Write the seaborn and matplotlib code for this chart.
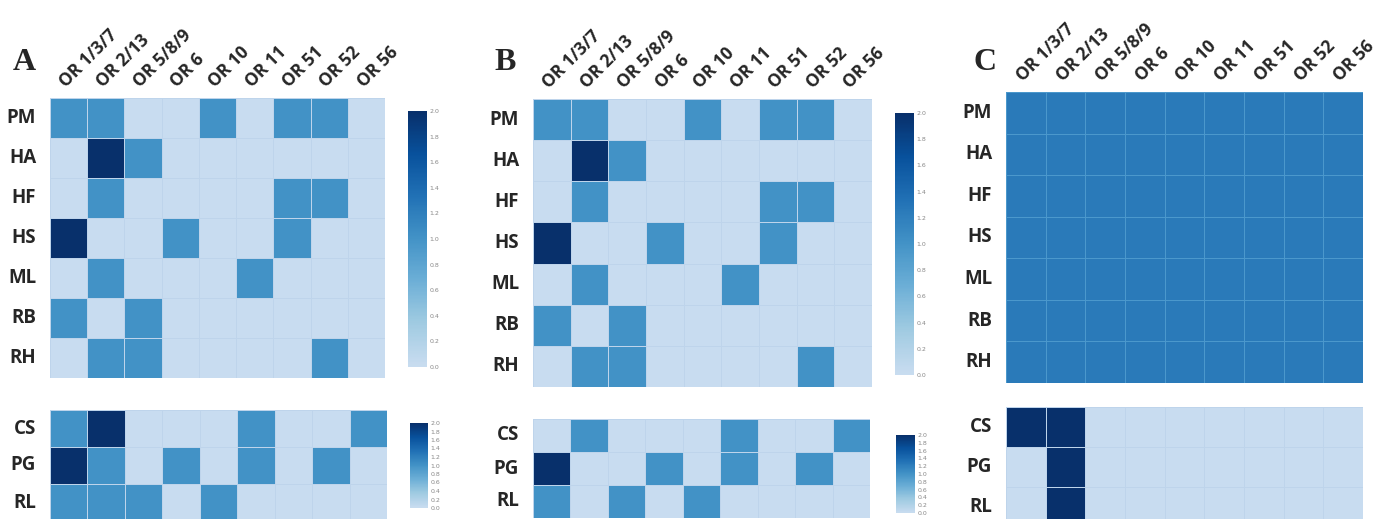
import numpy as np
import pandas as pd
import matplotlib
matplotlib.use("Agg")
import matplotlib.pyplot as plt
import seaborn as sns
from matplotlib.colors import LinearSegmentedColormap

sns.set_style("white")

# ---- data ----
columns = ["OR 1/3/7", "OR 2/13", "OR 5/8/9", "OR 6", "OR 10", "OR 11", "OR 51", "OR 52", "OR 56"]
top_rows = ["PM", "HA", "HF", "HS", "ML", "RB", "RH"]
bottom_rows = ["CS", "PG", "RL"]

a_top = [
    [1, 1, 0, 0, 1, 0, 1, 1, 0],
    [0, 2, 1, 0, 0, 0, 0, 0, 0],
    [0, 1, 0, 0, 0, 0, 1, 1, 0],
    [2, 0, 0, 1, 0, 0, 1, 0, 0],
    [0, 1, 0, 0, 0, 1, 0, 0, 0],
    [1, 0, 1, 0, 0, 0, 0, 0, 0],
    [0, 1, 1, 0, 0, 0, 0, 1, 0],
]
a_bottom = [
    [1, 2, 0, 0, 0, 1, 0, 0, 1],
    [2, 1, 0, 1, 0, 1, 0, 1, 0],
    [1, 1, 1, 0, 1, 0, 0, 0, 0],
]
b_top = [
    [1, 1, 0, 0, 1, 0, 1, 1, 0],
    [0, 2, 1, 0, 0, 0, 0, 0, 0],
    [0, 1, 0, 0, 0, 0, 1, 1, 0],
    [2, 0, 0, 1, 0, 0, 1, 0, 0],
    [0, 1, 0, 0, 0, 1, 0, 0, 0],
    [1, 0, 1, 0, 0, 0, 0, 0, 0],
    [0, 1, 1, 0, 0, 0, 0, 1, 0],
]
b_bottom = [
    [0, 1, 0, 0, 0, 1, 0, 0, 1],
    [2, 0, 0, 1, 0, 1, 0, 1, 0],
    [1, 0, 1, 0, 1, 0, 0, 0, 0],
]
c_top = [[1.25] * 9 for _ in range(7)]
c_bottom = [
    [2, 2, 0, 0, 0, 0, 0, 0, 0],
    [0, 2, 0, 0, 0, 0, 0, 0, 0],
    [0, 2, 0, 0, 0, 0, 0, 0, 0],
]
cbar_ticks = [0.0, 0.2, 0.4, 0.6, 0.8, 1.0, 1.2, 1.4, 1.6, 1.8, 2.0]

# ---- figure ----
W, H = 1387, 519
fig = plt.figure(figsize=(W / 100, H / 100), dpi=100)


def px(x0, y0, x1, y1):
    return [x0 / W, 1 - y1 / H, (x1 - x0) / W, (y1 - y0) / H]


cmap = LinearSegmentedColormap.from_list(
    "blues_trunc", plt.cm.Blues(np.linspace(0.24, 1.0, 256)))

label_font = dict(family="Open Sans", fontweight="bold")


def draw(data, rows, box, cbox=None, show_cols=False, col_size=12.5, row_size=13.5,
         line="#bed4eb"):
    ax = fig.add_axes(px(*box))
    df = pd.DataFrame(data, index=rows, columns=columns)
    if cbox is not None:
        cax = fig.add_axes(px(*cbox))
        sns.heatmap(df, ax=ax, cmap=cmap, vmin=0, vmax=2, cbar=True, cbar_ax=cax,
                    linewidths=0.5, linecolor=line)
        cax.set_yticks(cbar_ticks)
        cax.set_yticklabels([f"{t:.1f}" for t in cbar_ticks], fontsize=4.5, color="#888888")
        cax.tick_params(length=0, pad=2)
        for s in cax.spines.values():
            s.set_visible(False)
    else:
        sns.heatmap(df, ax=ax, cmap=cmap, vmin=0, vmax=2, cbar=False,
                    linewidths=0.5, linecolor=line)
    ax.set_xlabel("")
    ax.set_ylabel("")
    ax.tick_params(length=0)
    ax.set_yticklabels(rows, rotation=0, fontsize=row_size, **label_font)
    ax.tick_params(axis="y", pad=10)
    if show_cols:
        ax.xaxis.tick_top()
        ax.set_xticklabels(columns, rotation=45, ha="left", rotation_mode="anchor",
                           fontsize=col_size, **label_font)
        ax.tick_params(axis="x", pad=5)
    else:
        ax.set_xticks([])
    return ax


# Panel A
draw(a_top, top_rows, (50, 98, 385, 378), (408, 111, 427, 367), show_cols=True)
draw(a_bottom, bottom_rows, (50, 410, 387, 521), (410, 423, 428, 508))
fig.text(24 / W, 1 - 62 / H, "A", fontsize=23, fontweight="bold",
         family="Liberation Serif", ha="center", va="center")

# Panel B
draw(b_top, top_rows, (533, 99, 872, 387), (895, 113, 914, 375), show_cols=True)
draw(b_bottom, bottom_rows, (533, 419, 870, 518), (896, 435, 915, 513))
fig.text(505 / W, 1 - 62 / H, "B", fontsize=23, fontweight="bold",
         family="Liberation Serif", ha="center", va="center")

# Panel C
draw(c_top, top_rows, (1006, 92, 1363, 383), show_cols=True, line="#4b98cc")
draw(c_bottom, bottom_rows, (1006, 407, 1363, 527))
fig.text(985 / W, 1 - 63 / H, "C", fontsize=23, fontweight="bold",
         family="Liberation Serif", ha="center", va="center")

fig.savefig("out.png", dpi=100)
